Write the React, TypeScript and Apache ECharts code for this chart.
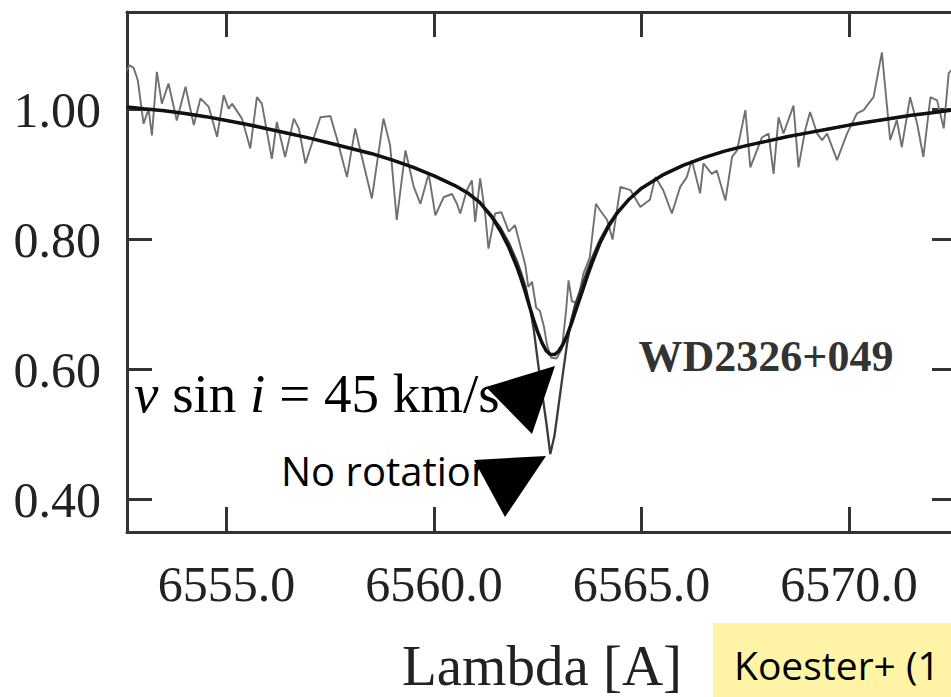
import { useEffect, useRef } from "react";
import * as echarts from "echarts";

const xTicks = [6555, 6560, 6565, 6570];
const yTicks = [0.4, 0.6, 0.8, 1.0];

const obsLambda = [
  6552.6, 6552.66, 6552.76, 6552.86, 6553.0, 6553.12, 6553.2, 6553.32, 6553.44, 6553.6,
  6553.8, 6554.01, 6554.21, 6554.37, 6554.57, 6554.77, 6554.93, 6555.05, 6555.13, 6555.37,
  6555.57, 6555.73, 6555.85, 6556.09, 6556.21, 6556.41, 6556.62, 6556.74, 6556.9, 6557.26,
  6557.5, 6557.66, 6557.9, 6558.1, 6558.26, 6558.5, 6558.78, 6558.94, 6559.1, 6559.31,
  6559.51, 6559.67, 6559.87, 6560.03, 6560.23, 6560.43, 6560.55, 6560.63, 6560.79, 6560.91,
  6560.99, 6561.11, 6561.23, 6561.31, 6561.47, 6561.62, 6561.8, 6561.95, 6562.08, 6562.2,
  6562.27, 6562.36, 6562.46, 6562.55, 6562.65, 6562.72, 6562.82, 6562.95, 6563.08, 6563.18,
  6563.24, 6563.32, 6563.45, 6563.6, 6563.75, 6563.9, 6564.0, 6564.17, 6564.3, 6564.49,
  6564.73, 6564.97, 6565.2, 6565.33, 6565.52, 6565.73, 6565.93, 6566.09, 6566.21, 6566.41,
  6566.49, 6566.69, 6566.81, 6567.02, 6567.18, 6567.3, 6567.5, 6567.62, 6567.9, 6568.06,
  6568.18, 6568.3, 6568.42, 6568.66, 6568.78, 6568.94, 6569.06, 6569.23, 6569.35, 6569.47,
  6569.71, 6569.95, 6570.19, 6570.35, 6570.43, 6570.59, 6570.79, 6570.99, 6571.15, 6571.27,
  6571.47, 6571.64, 6571.79, 6571.96, 6572.12, 6572.28, 6572.4, 6572.6,
];
const obsFlux = [
  1.06, 1.068, 1.064, 1.045, 0.978, 1.001, 0.96, 1.058, 1.009, 1.04,
  0.983, 1.035, 0.976, 1.017, 1.004, 0.958, 1.022, 1.001, 1.009, 0.986,
  0.94, 1.019, 1.009, 0.924, 0.981, 0.927, 0.986, 0.971, 0.917, 0.988,
  0.99, 0.955, 0.896, 0.971, 0.927, 0.863, 0.986, 0.945, 0.83, 0.937,
  0.881, 0.855, 0.901, 0.837, 0.865, 0.87, 0.855, 0.84, 0.876, 0.891,
  0.827, 0.894, 0.84, 0.786, 0.84, 0.842, 0.812, 0.822, 0.79, 0.76,
  0.727, 0.735, 0.695, 0.69, 0.665, 0.638, 0.618, 0.617, 0.632, 0.69,
  0.737, 0.705, 0.702, 0.748, 0.772, 0.855, 0.845, 0.83, 0.8, 0.881,
  0.876, 0.85, 0.861, 0.896, 0.876, 0.84, 0.881, 0.896, 0.922, 0.871,
  0.917, 0.901, 0.906, 0.86, 0.927, 0.937, 0.999, 0.911, 0.957, 0.963,
  0.901, 0.988, 0.963, 1.006, 0.911, 0.968, 0.996, 0.963, 0.953, 0.963,
  0.922, 0.963, 0.994, 0.999, 1.006, 1.019, 1.088, 0.953, 0.984, 0.942,
  1.019, 0.978, 0.927, 1.019, 1.014, 0.971, 1.056, 1.07,
];

const modelLambda = [
  6552.6, 6553.0, 6553.5, 6554.0, 6554.5, 6555.0, 6555.5, 6556.0, 6556.5, 6557.0,
  6557.5, 6558.0, 6558.5, 6559.0, 6559.5, 6560.0, 6560.5, 6560.8, 6561.1, 6561.4,
  6561.6, 6561.8, 6562.0, 6562.1, 6562.2, 6562.3, 6562.4, 6562.5, 6562.6, 6562.7,
  6562.8, 6562.9, 6563.0, 6563.1, 6563.2, 6563.3, 6563.4, 6563.5, 6563.6, 6563.7,
  6563.8, 6564.0, 6564.2, 6564.4, 6564.7, 6565.0, 6565.5, 6566.0, 6566.5, 6567.0,
  6567.5, 6568.0, 6568.5, 6569.0, 6569.5, 6570.0, 6570.5, 6571.0, 6571.5, 6572.0,
  6572.6,
];
// model with v sin i = 45 km/s
const rotFlux = [
  1.004, 1.001, 0.998, 0.994, 0.989, 0.983, 0.977, 0.97, 0.963, 0.956,
  0.948, 0.94, 0.932, 0.922, 0.911, 0.898, 0.883, 0.872, 0.857, 0.834,
  0.813, 0.788, 0.757, 0.739, 0.719, 0.697, 0.676, 0.657, 0.641, 0.629,
  0.623, 0.623, 0.628, 0.638, 0.652, 0.669, 0.688, 0.707, 0.726, 0.745,
  0.763, 0.795, 0.82, 0.84, 0.862, 0.879, 0.899, 0.914, 0.926, 0.936,
  0.944, 0.951, 0.958, 0.964, 0.97, 0.976, 0.981, 0.986, 0.991, 0.995,
  1.0,
];
// model without rotation
const norotFlux = [
  1.004, 1.001, 0.998, 0.994, 0.989, 0.983, 0.977, 0.97, 0.963, 0.956,
  0.948, 0.94, 0.932, 0.922, 0.911, 0.898, 0.883, 0.872, 0.857, 0.836,
  0.818, 0.795, 0.766, 0.748, 0.728, 0.7, 0.662, 0.612, 0.565, 0.52,
  0.47, 0.498, 0.545, 0.592, 0.638, 0.675, 0.7, 0.718, 0.736, 0.754,
  0.771, 0.8, 0.823, 0.84, 0.862, 0.879, 0.899, 0.914, 0.926, 0.936,
  0.944, 0.951, 0.958, 0.964, 0.97, 0.976, 0.981, 0.986, 0.991, 0.995,
  1.0,
];

const FRAME = "#333";
const SERIF = "'Liberation Serif', 'Times New Roman', serif";
const SANS = "'Open Sans', sans-serif";

export default function App() {
  const ref = useRef<HTMLDivElement>(null);
  useEffect(() => {
    const chart = echarts.init(ref.current!, null, { renderer: "svg" });
    const obs = obsLambda.map((x, i) => [x, obsFlux[i]]);
    const rot = modelLambda.map((x, i) => [x, rotFlux[i]]);
    const norot = modelLambda.map((x, i) => [x, norotFlux[i]]);
    const tickStyle = { color: FRAME, width: 3 };
    const frameLine = { show: true, onZero: false, lineStyle: { color: FRAME, width: 3 } };
    chart.setOption({
      animation: false,
      backgroundColor: "#fff",
      grid: {
        left: 127,
        top: 12,
        width: 830,
        height: 520,
        containLabel: false,
        outerBoundsMode: "none",
      },
      xAxis: [
        {
          type: "value",
          min: 6552.6,
          max: 6572.6,
          position: "bottom",
          name: "Lambda [A]",
          nameLocation: "middle",
          nameGap: 105,
          nameTextStyle: { fontFamily: SERIF, fontSize: 57, color: "#222" },
          axisLine: frameLine,
          axisTick: { show: true, inside: true, length: 25, customValues: xTicks, lineStyle: tickStyle },
          axisLabel: {
            customValues: xTicks,
            formatter: (v: number) => v.toFixed(1),
            fontFamily: SERIF,
            fontSize: 50,
            color: "#222",
            margin: 27,
          },
          splitLine: { show: false },
        },
        {
          type: "value",
          min: 6552.6,
          max: 6572.6,
          position: "top",
          axisLine: frameLine,
          axisTick: { show: true, inside: true, length: 25, customValues: xTicks, lineStyle: tickStyle },
          axisLabel: { show: false },
          splitLine: { show: false },
        },
      ],
      yAxis: [
        {
          type: "value",
          min: 0.35,
          max: 1.15,
          position: "left",
          axisLine: frameLine,
          axisTick: { show: true, inside: true, length: 25, customValues: yTicks, lineStyle: tickStyle },
          axisLabel: {
            customValues: yTicks,
            formatter: (v: number) => v.toFixed(2),
            fontFamily: SERIF,
            fontSize: 50,
            color: "#222",
            margin: 26,
          },
          splitLine: { show: false },
        },
        {
          type: "value",
          min: 0.35,
          max: 1.15,
          position: "right",
          axisLine: { show: false },
          axisTick: { show: true, inside: true, length: 25, customValues: yTicks, lineStyle: tickStyle },
          axisLabel: { show: false },
          splitLine: { show: false },
        },
      ],
      series: [
        {
          name: "Observed",
          type: "line",
          data: obs,
          showSymbol: false,
          lineStyle: { color: "#707070", width: 1.9 },
          z: 2,
        },
        {
          name: "No rotation",
          type: "line",
          data: norot,
          showSymbol: false,
          lineStyle: { color: "#3a3a3a", width: 2.3 },
          z: 3,
        },
        {
          name: "v sin i = 45 km/s",
          type: "line",
          data: rot,
          showSymbol: false,
          lineStyle: { color: "#111", width: 3.5 },
          z: 4,
        },
      ],
      graphic: [
        {
          type: "text",
          x: 766,
          y: 356,
          z: 100,
          style: {
            text: "WD2326+049",
            fontFamily: SERIF,
            fontWeight: "bold",
            fontSize: 44,
            fill: "#333",
            align: "center",
            verticalAlign: "middle",
          },
        },
        {
          type: "text",
          x: 134,
          y: 393,
          z: 100,
          style: {
            text: "{it|v} sin {it|i} = 45 km/s",
            fontFamily: SERIF,
            fontSize: 55,
            fill: "#000",
            align: "left",
            verticalAlign: "middle",
            rich: {
              it: { fontFamily: SERIF, fontStyle: "italic", fontSize: 55, fill: "#000" },
            },
          },
        },
        {
          type: "text",
          x: 281,
          y: 470,
          z: 100,
          style: {
            text: "No rotation",
            fontFamily: SANS,
            fontSize: 40,
            fill: "#000",
            align: "left",
            verticalAlign: "middle",
          },
        },
        {
          type: "polygon",
          z: 110,
          shape: { points: [[555, 366], [486, 387], [532, 434]] },
          style: { fill: "#000" },
        },
        {
          type: "polygon",
          z: 110,
          shape: { points: [[546, 456], [474, 460], [505, 517]] },
          style: { fill: "#000" },
        },
        {
          type: "rect",
          z: 100,
          shape: { x: 713, y: 623, width: 245, height: 80 },
          style: { fill: "#FFF4A6" },
        },
        {
          type: "text",
          x: 734,
          y: 664,
          z: 101,
          style: {
            text: "Koester+ (1",
            fontFamily: SANS,
            fontSize: 39,
            fill: "#000",
            align: "left",
            verticalAlign: "middle",
          },
        },
      ],
    });
    return () => chart.dispose();
  }, []);
  return (
    <div
      ref={ref}
      style={{ position: "fixed", left: 0, top: 0, width: 951, height: 697, overflow: "hidden" }}
    />
  );
}
